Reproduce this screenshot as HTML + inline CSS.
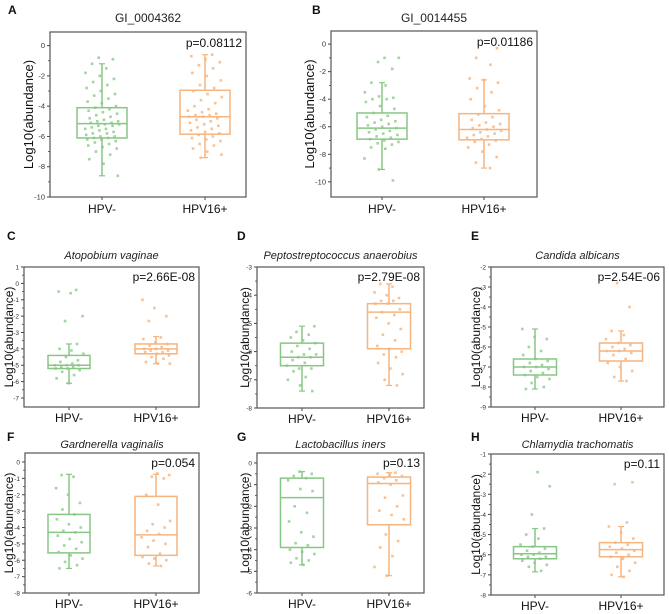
<!DOCTYPE html>
<html><head><meta charset="utf-8"><style>
body{margin:0;background:#fff;}
svg{display:block;font-family:"Liberation Sans",Arial,sans-serif;}
</style></head><body>
<svg id="fig" width="669" height="614"></svg>
<script>
const categories = ["HPV-","HPV16+"];
const panelLetters = ["A","B","C","D","E","F","G","H"];
const panelTitles = ["GI_0004362","GI_0014455","Atopobium vaginae","Peptostreptococcus anaerobius","Candida albicans","Gardnerella vaginalis","Lactobacillus iners","Chlamydia trachomatis"];
const pValues = ["p=0.08112","p=0.01186","p=2.66E-08","p=2.79E-08","p=2.54E-06","p=0.054","p=0.13","p=0.11"];
const yTicks = [[0,-2,-4,-6,-8,-10],[0,-2,-4,-6,-8,-10],[1,0,-1,-2,-3,-4,-5,-6,-7],[-3,-4,-5,-6,-7,-8],[-2,-3,-4,-5,-6,-7,-8,-9],[0,-1,-2,-3,-4,-5,-6,-7,-8],[0,-1,-2,-3,-4,-5,-6],[-1,-2,-3,-4,-5,-6,-7,-8]];
// box stats: [whiskerHigh, q3, median, q1, whiskerLow]
const statsNeg = [[-1.2,-4.1,-5.15,-6.1,-8.6],[-2.8,-5.0,-6.1,-6.9,-9.1],[-3.7,-4.4,-5.0,-5.2,-6.1],[-5.1,-5.7,-6.2,-6.5,-7.4],[-5.1,-6.6,-7.0,-7.4,-8.1],[-0.75,-3.2,-4.3,-5.55,-6.5],[-0.4,-0.7,-1.6,-3.9,-4.7],[-4.7,-5.6,-5.95,-6.2,-6.85]];
const statsPos = [[-0.6,-2.95,-4.7,-5.85,-7.4],[-2.6,-5.05,-6.2,-6.95,-9.0],[-3.25,-3.7,-4.0,-4.3,-4.9],[-3.6,-4.3,-4.6,-5.9,-7.2],[-5.2,-5.8,-6.2,-6.7,-7.7],[-0.75,-2.1,-4.45,-5.7,-6.35],[-0.45,-0.65,-0.95,-2.85,-5.2],[-4.6,-5.4,-5.75,-6.1,-7.1]];
const pointsNeg = [
[-0.8,-0.9,-1.2,-1.5,-1.8,-2.0,-2.2,-2.4,-2.6,-2.8,-3.0,-3.2,-3.3,-3.5,-3.7,-3.8,-4.0,-4.1,-4.2,-4.3,-4.4,-4.5,-4.6,-4.7,-4.8,-4.9,-5.0,-5.0,-5.1,-5.1,-5.2,-5.2,-5.3,-5.3,-5.4,-5.5,-5.5,-5.6,-5.7,-5.8,-5.8,-5.9,-6.0,-6.0,-6.1,-6.1,-6.2,-6.2,-6.3,-6.4,-6.5,-6.6,-6.7,-6.8,-7.0,-7.2,-7.5,-7.8,-8.6],
[-1.0,-1.0,-1.3,-1.8,-2.8,-3.0,-3.5,-3.8,-3.9,-4.0,-4.0,-4.2,-4.5,-4.7,-5.0,-5.2,-5.3,-5.5,-5.6,-5.7,-5.8,-5.9,-6.0,-6.1,-6.2,-6.3,-6.4,-6.5,-6.6,-6.7,-6.8,-6.9,-7.0,-7.1,-7.2,-7.3,-7.5,-7.6,-8.3,-9.1,-9.9],
[-0.4,-0.5,-0.6,-2.0,-2.3,-3.7,-4.0,-4.1,-4.3,-4.5,-4.7,-4.8,-4.9,-5.0,-5.0,-5.0,-5.1,-5.1,-5.2,-5.2,-5.3,-5.4,-5.6,-5.8,-6.1],
[-5.1,-5.3,-5.4,-5.5,-5.6,-5.7,-5.8,-5.9,-6.0,-6.1,-6.1,-6.2,-6.2,-6.3,-6.4,-6.5,-6.6,-6.6,-6.7,-6.9,-7.0,-7.2,-7.4],
[-5.1,-5.5,-5.6,-6.0,-6.2,-6.4,-6.6,-6.7,-6.8,-6.9,-7.0,-7.0,-7.1,-7.2,-7.3,-7.4,-7.5,-7.6,-7.8,-8.0,-8.1],
[-0.8,-0.9,-1.6,-2.0,-2.5,-2.9,-3.2,-3.5,-3.8,-4.0,-4.2,-4.3,-4.5,-4.7,-4.9,-5.1,-5.3,-5.5,-5.7,-5.9,-6.1,-6.3,-6.5],
[-0.4,-0.5,-0.6,-0.7,-0.8,-1.2,-1.3,-2.0,-2.3,-2.7,-3.2,-3.4,-3.7,-3.8,-4.0,-4.1,-4.2,-4.4,-4.5,-4.6,-4.7],
[-1.9,-2.6,-4.0,-4.7,-5.0,-5.2,-5.5,-5.6,-5.7,-5.8,-5.9,-6.0,-6.0,-6.1,-6.1,-6.2,-6.3,-6.4,-6.5,-6.6,-6.8]];
const pointsPos = [
[-0.6,-0.7,-0.9,-1.1,-1.3,-1.5,-1.8,-2.0,-2.3,-2.6,-2.8,-3.0,-3.2,-3.4,-3.6,-3.8,-4.0,-4.2,-4.3,-4.4,-4.5,-4.6,-4.6,-4.7,-4.7,-4.8,-4.9,-5.0,-5.1,-5.2,-5.3,-5.4,-5.5,-5.6,-5.7,-5.8,-5.9,-6.0,-6.1,-6.2,-6.3,-6.5,-6.6,-6.8,-7.0,-7.2,-7.4],
[-0.3,-1.0,-1.5,-2.5,-2.6,-2.8,-3.2,-3.5,-4.0,-4.5,-4.8,-5.1,-5.3,-5.5,-5.7,-5.8,-5.9,-6.0,-6.1,-6.2,-6.3,-6.4,-6.5,-6.6,-6.7,-6.8,-6.9,-7.0,-7.1,-7.3,-7.5,-7.8,-8.2,-8.6,-9.0],
[-1.0,-1.5,-2.0,-2.3,-3.3,-3.4,-3.6,-3.7,-3.8,-3.9,-4.0,-4.0,-4.1,-4.1,-4.2,-4.2,-4.3,-4.4,-4.5,-4.6,-4.8,-4.9,-4.9],
[-3.6,-3.7,-3.9,-4.0,-4.1,-4.2,-4.2,-4.3,-4.3,-4.5,-4.6,-4.7,-4.8,-5.0,-5.2,-5.4,-5.6,-5.8,-5.9,-6.0,-6.1,-6.2,-6.4,-6.6,-6.8,-7.0,-7.2],
[-2.8,-4.0,-5.2,-5.4,-5.6,-5.8,-5.9,-6.0,-6.1,-6.2,-6.2,-6.3,-6.4,-6.6,-6.8,-7.0,-7.2,-7.5,-7.7],
[-0.7,-0.8,-0.9,-1.0,-2.0,-2.6,-3.6,-3.8,-4.0,-4.2,-4.4,-4.6,-4.8,-5.0,-5.2,-5.6,-5.8,-5.9,-6.0,-6.2,-6.35],
[-0.45,-0.5,-0.55,-0.6,-0.7,-0.8,-0.9,-1.0,-1.5,-1.6,-2.0,-2.2,-2.4,-2.6,-3.3,-3.6,-3.9,-4.3,-4.8,-5.2],
[-2.4,-2.5,-4.4,-4.6,-4.9,-5.2,-5.4,-5.5,-5.6,-5.7,-5.8,-5.9,-6.0,-6.1,-6.2,-6.4,-6.6,-6.8,-7.0,-7.1]];

// layout (pixel geometry)
const L = [
 {x0:50,x1:246,y0:32,y1:197,ymin:-10,ymax:0.9,c:[102,205],bw:50,big:true,lx:8,ly:14,ty:22,ylc:29},
 {x0:331,x1:537,y0:31,y1:197,ymin:-11.1,ymax:0.95,c:[382,484],bw:50,big:true,lx:312,ly:14,ty:22,ylc:310},
 {x0:24,x1:199,y0:267,y1:407,ymin:-7.55,ymax:1,c:[69,156],bw:42,lx:7,ly:240,ty:259,ylc:9},
 {x0:257,x1:424,y0:267,y1:408,ymin:-8,ymax:-3,c:[302,389],bw:43,lx:237,ly:240,ty:259,ylc:245},
 {x0:491,x1:664,y0:267,y1:407,ymin:-9,ymax:-2,c:[535,621],bw:43,lx:471,ly:240,ty:259,ylc:476},
 {x0:25,x1:199,y0:453,y1:593,ymin:-8,ymax:0.55,c:[69,156],bw:42,lx:7,ly:441,ty:448,ylc:9},
 {x0:257,x1:424,y0:453,y1:593,ymin:-6,ymax:0.46,c:[302,389],bw:43,lx:237,ly:441,ty:448,ylc:245},
 {x0:491,x1:664,y0:454,y1:595,ymin:-8,ymax:-1,c:[535,621],bw:43,lx:471,ly:441,ty:448,ylc:476}
];
const NS="http://www.w3.org/2000/svg";
const svg=document.getElementById('fig');
function mk(tag,attrs,parent){const e=document.createElementNS(NS,tag);for(const k in attrs)e.setAttribute(k,attrs[k]);(parent||svg).appendChild(e);return e;}
const COL=[{s:"#88c685",p:"#8fcf8c"},{s:"#f6b47e",p:"#f7b785"}];

L.forEach((g,i)=>{
  const grp=mk('g',{});
  
  
  const y=v=>g.y0+(g.ymax-v)/(g.ymax-g.ymin)*(g.y1-g.y0);
  const fs=g.big?12:11;
  const lt=mk('text',{x:g.lx,y:g.ly,'font-size':12,'font-weight':'bold',fill:'#111'},grp);lt.textContent=panelLetters[i];
  
  
  const tt=mk('text',{x:(g.x0+g.x1)/2,y:g.ty,'font-size':fs,'text-anchor':'middle',fill:'#222','font-style':g.big?'normal':'italic'},grp);tt.textContent=panelTitles[i];
  
  
  const tk=yTicks[i];
  tk.forEach(v=>{
    mk('line',{x1:g.x0-3,x2:g.x0,y1:y(v),y2:y(v),stroke:'#444','stroke-width':1},grp);
    const t=mk('text',{x:g.x0-5,y:y(v)+2.5,'font-size':g.big?7.5:6.5,'text-anchor':'end',fill:'#333'},grp);t.textContent=String(v);
    
    
  });
  for(let k=0;k<tk.length-1;k++){const m=(tk[k]+tk[k+1])/2;
    mk('line',{x1:g.x0-2,x2:g.x0,y1:y(m),y2:y(m),stroke:'#444','stroke-width':0.8},grp);}
  const yl=mk('text',{x:0,y:0,'font-size':g.big?13:12,'text-anchor':'middle',fill:'#111',transform:`translate(${g.ylc+4},${(g.y0+g.y1)/2}) rotate(-90)`},grp);yl.textContent='Log10(abundance)';
  
  
  [statsNeg[i],statsPos[i]].forEach((st,j)=>{
    const cx=g.c[j],c=COL[j],hw=g.bw/2;
    const pts=[pointsNeg[i],pointsPos[i]][j];
    pts.forEach((v,k)=>{
      const jx=((((k+1)*7919+j*131+i*17)%101)/101-0.5)*g.bw*0.7;
      const p=mk('rect',{x:cx+jx-1.3,y:y(v)-1.3,width:2.6,height:2.6,fill:c.p,opacity:0.85},grp);
      
      
    });
    mk('line',{x1:cx,x2:cx,y1:y(st[0]),y2:y(st[1]),stroke:c.s,'stroke-width':1.5},grp);
    mk('line',{x1:cx,x2:cx,y1:y(st[3]),y2:y(st[4]),stroke:c.s,'stroke-width':1.5},grp);
    mk('line',{x1:cx-3,x2:cx+3,y1:y(st[0]),y2:y(st[0]),stroke:c.s,'stroke-width':1.2},grp);
    mk('line',{x1:cx-3,x2:cx+3,y1:y(st[4]),y2:y(st[4]),stroke:c.s,'stroke-width':1.2},grp);
    const b=mk('rect',{x:cx-hw,y:y(st[1]),width:g.bw,height:y(st[3])-y(st[1]),fill:'none',stroke:c.s,'stroke-width':1.5},grp);
    
    
    mk('line',{x1:cx-hw,x2:cx+hw,y1:y(st[2]),y2:y(st[2]),stroke:c.s,'stroke-width':1.5},grp);
    mk('line',{x1:cx,x2:cx,y1:g.y1,y2:g.y1+3,stroke:'#444','stroke-width':1},grp);
    const xl=mk('text',{x:cx,y:g.y1+(g.big?16:15),'font-size':12,'text-anchor':'middle',fill:'#111'},grp);xl.textContent=categories[j];
    
    
  });
  const fr=mk('rect',{x:g.x0,y:g.y0,width:g.x1-g.x0,height:g.y1-g.y0,fill:'none',stroke:'#555','stroke-width':1.2},grp);
  
  
  const pv=mk('text',{x:g.x1-4,y:g.y0+(g.big?15:14),'font-size':12,'text-anchor':'end',fill:'#111'},grp);pv.textContent=pValues[i];
  
  
});
</script>
</body></html>
